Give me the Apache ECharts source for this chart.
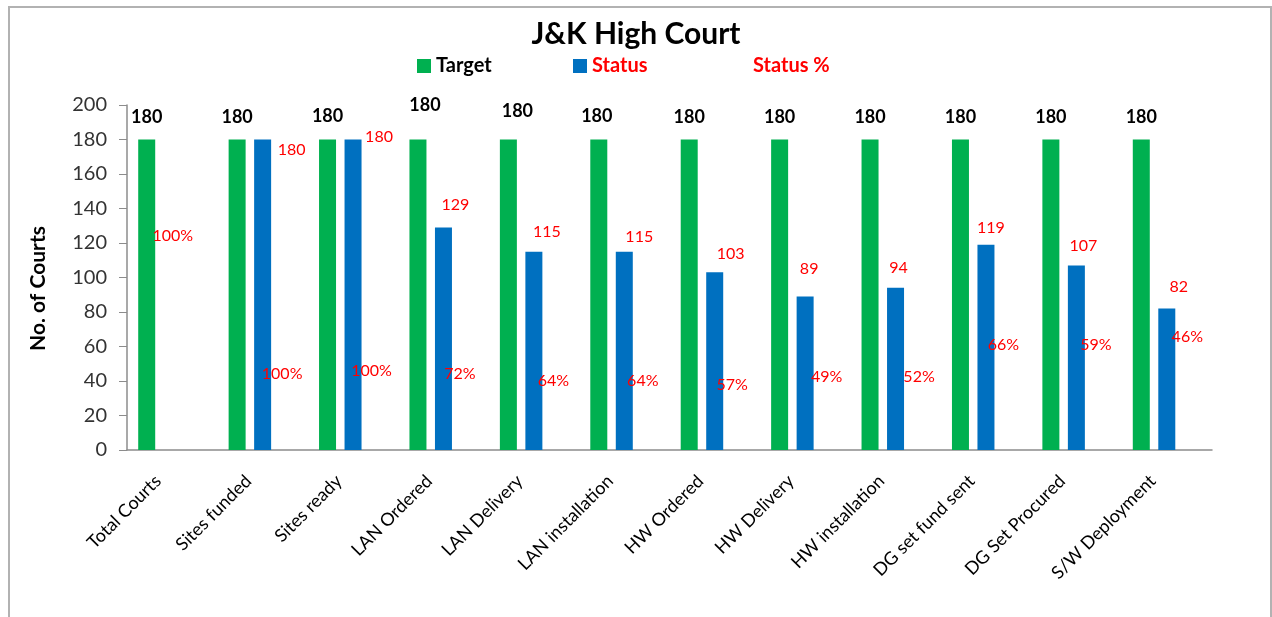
<!DOCTYPE html>
<html>
<head>
<meta charset="utf-8">
<title>J&amp;K High Court</title>
<script src="https://cdn.jsdelivr.net/npm/echarts@6/dist/echarts.min.js"></script>
<style>
  html, body { margin: 0; padding: 0; background: #fff; }
  #wrap { position: relative; width: 1272px; height: 617px; overflow: hidden; }
  #frame { position: absolute; left: 8px; top: 6px; width: 1260px; height: 640px; border: 2px solid #b2b2b2; }
  #chart { position: absolute; left: 0; top: 0; width: 1272px; height: 617px; }
</style>
</head>
<body>
<div id="wrap">
  <div id="frame"></div>
  <div id="chart"></div>
</div>
<script>
// data
const categories = [
  'Total Courts', 'Sites funded', 'Sites ready', 'LAN Ordered', 'LAN Delivery',
  'LAN installation', 'HW Ordered', 'HW Delivery', 'HW installation',
  'DG set fund sent', 'DG Set Procured', 'S/W Deployment'
];
const target = [180, 180, 180, 180, 180, 180, 180, 180, 180, 180, 180, 180];
const status = [null, 180, 180, 129, 115, 115, 103, 89, 94, 119, 107, 82];
const statusPct = [100, 100, 100, 72, 64, 64, 57, 49, 52, 66, 59, 46];
const yTicks = { min: 0, max: 200, step: 20 };

// label placement (pixels), the original has hand-moved labels
const targetLabelDx = [0, 0, 0, 7, 9, -2, 0, 0, 0, 0, 0, 0];
const targetLabelRise = [22, 22, 23, 34, 28, 23, 22, 22, 22, 22, 22, 22];
const statusLabelDx = [0, 29, 26, 12, 13, 15, 16, 4, 3, 5, 7, 12];
const statusLabelRise = [0, -10, 3, 23, 20, 15, 18, 28, 20, 17, 20, 22];
const pctLabelDx = [-25, -6, -7, -9, -6, -7, -8, -4, -2, -8, -6, -5];
const pctLabelRise = [212, 74, 77, 75, 68, 68, 64, 72, 72, 104, 104, 112];

const FONT = 'Lato, "Open Sans", sans-serif';
const GREEN = '#00b050';
const BLUE = '#0070c0';
const RED = '#ff0000';

function withLabels(values, dx, rise, labelStyle, fmt) {
  return values.map((v, i) => ({
    value: v,
    label: Object.assign({
      show: v != null,
      position: 'top',
      distance: 0,
      align: 'center',
      verticalAlign: 'middle',
      offset: [dx[i], -rise[i]],
      formatter: fmt ? () => fmt(i) : '{c}'
    }, labelStyle)
  }));
}

const chart = echarts.init(document.getElementById('chart'), null, { renderer: 'canvas' });

const legendText = (color) => ({
  fontFamily: FONT, fontSize: 20, fontWeight: 'bold', color: color
});

const option = {
  animation: false,
  textStyle: { fontFamily: FONT },
  title: {
    text: 'J&K High Court',
    left: 'center',
    top: 14,
    textStyle: { fontFamily: FONT, fontSize: 30, fontWeight: 'bold', color: '#000' }
  },
  legend: [
    {
      data: [{ name: 'Target', icon: 'rect' }],
      left: 417, top: 56, padding: 0, itemWidth: 14, itemHeight: 14, itemGap: 5,
      textStyle: legendText('#000'), selectedMode: false
    },
    {
      data: [{ name: 'Status', icon: 'rect' }],
      left: 573, top: 56, padding: 0, itemWidth: 14, itemHeight: 14, itemGap: 5,
      textStyle: legendText(RED), selectedMode: false
    },
    {
      data: [{ name: 'Status %', icon: 'none' }],
      left: 734, top: 56, padding: 0, itemWidth: 14, itemHeight: 14, itemGap: 5,
      textStyle: legendText(RED), selectedMode: false
    }
  ],
  grid: { left: 127, right: 60, top: 105, bottom: 167, containLabel: false },
  xAxis: {
    type: 'category',
    data: categories,
    axisLine: { lineStyle: { color: '#8c8c8c', width: 1.5 } },
    axisTick: { show: false },
    axisLabel: {
      interval: 0,
      rotate: 45,
      margin: 14,
      padding: [0, 20, 0, 0],
      fontFamily: FONT,
      fontSize: 18,
      color: '#000'
    }
  },
  yAxis: {
    type: 'value',
    min: yTicks.min,
    max: yTicks.max,
    interval: yTicks.step,
    name: 'No. of Courts',
    nameLocation: 'middle',
    nameGap: 78,
    nameTextStyle: {
      fontFamily: FONT, fontSize: 21, fontWeight: 'bold', color: '#000',
      padding: [0, 22, 0, 0]
    },
    axisLine: { show: true, lineStyle: { color: '#8c8c8c', width: 1.5 } },
    axisTick: { show: true, length: 8, lineStyle: { color: '#8c8c8c' } },
    splitLine: { show: false },
    axisLabel: { margin: 20, fontFamily: FONT, fontSize: 20, color: '#333' }
  },
  series: [
    {
      name: 'Target',
      type: 'bar',
      barWidth: 17,
      barGap: '50%',
      itemStyle: { color: GREEN },
      data: withLabels(target, targetLabelDx, targetLabelRise,
        { fontFamily: FONT, fontSize: 18, fontWeight: 'bold', color: '#000' })
    },
    {
      name: 'Status',
      type: 'bar',
      barWidth: 17,
      barGap: '50%',
      itemStyle: { color: BLUE },
      data: withLabels(status, statusLabelDx, statusLabelRise,
        { fontFamily: FONT, fontSize: 16, color: RED })
    },
    {
      name: 'Status %',
      type: 'bar',
      barWidth: 17,
      barGap: '50%',
      itemStyle: { color: 'rgba(0,0,0,0)' },
      data: withLabels(statusPct.map(p => p / 100), pctLabelDx, pctLabelRise,
        { fontFamily: FONT, fontSize: 16, color: RED },
        (i) => statusPct[i] + '%')
    }
  ]
};

chart.setOption(option);
window.addEventListener('resize', () => chart.resize());
</script>
</body>
</html>
